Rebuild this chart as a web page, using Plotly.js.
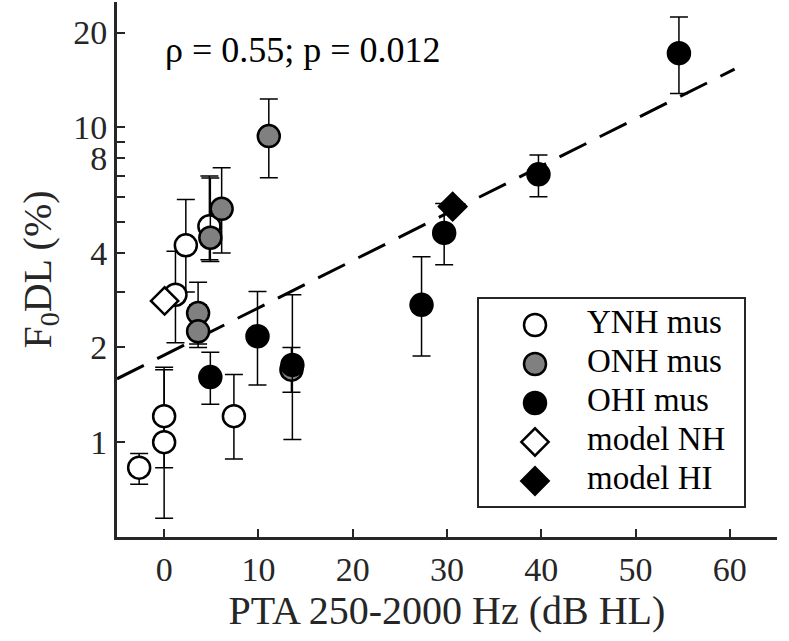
<!DOCTYPE html>
<html><head><meta charset="utf-8">
<script src="https://cdn.plot.ly/plotly-3.0.1.min.js"></script>
<style>body{margin:0;padding:0;background:#fff}#chart{width:789px;height:641px}</style>
</head><body><div id="chart"></div>
<script>
// YNH mus (white circles)
const ynhX = [-2.65, 0, 0, 1.2, 2.3, 4.8, 7.4];
const ynhY = [0.83, 1.0, 1.21, 2.94, 4.22, 4.85, 1.21];
const ynhHi = [0.92, 1.73, 1.70, 4.04, 5.90, 7.0, 1.64];
const ynhLo = [0.735, 0.573, 0.83, 2.07, 3.0, 3.8, 0.885];
// ONH mus (gray circles)
const onhX = [3.6, 3.6, 4.9, 6.1, 11.1, 13.5];
const onhY = [2.57, 2.25, 4.46, 5.51, 9.38, 1.70];
const onhHi = [3.22, 2.73, 6.9, 7.44, 12.3, 2.0];
const onhLo = [2.05, 2.0, 3.75, 3.99, 6.92, 1.44];
// OHI mus (black circles)
const ohiX = [4.9, 9.9, 13.6, 27.3, 29.7, 39.7, 54.6];
const ohiY = [1.61, 2.17, 1.76, 2.73, 4.62, 7.09, 17.2];
const ohiHi = [1.93, 3.01, 2.94, 3.88, 5.73, 8.16, 22.4];
const ohiLo = [1.32, 1.52, 1.02, 1.88, 3.66, 6.02, 12.8];
// model
const modelNHX = [0.05];
const modelNHY = [2.81];
const modelHIX = [30.6];
const modelHIY = [5.6];
// regression line endpoints
const fitX = [-5, 60.5];
const fitY = [1.59, 15.3];
// axis ticks
const yTickVals = [1, 2, 3, 4, 5, 6, 7, 8, 9, 10, 20];
const yTickText = ['1', '2', '', '4', '', '', '', '8', '', '10', '20'];
const xTickVals = [0, 10, 20, 30, 40, 50, 60];
// legend entries
const legendLabels = ['YNH mus', 'ONH mus', 'OHI mus', 'model NH', 'model HI'];
const legendSymbols = ['circle', 'circle', 'circle', 'diamond', 'diamond'];
const legendFills = ['#ffffff', '#808080', '#000000', '#ffffff', '#000000'];
const legendSizes = [22, 22, 22, 21, 21];

const FONT = 'Liberation Serif, Times New Roman, serif';
const INK = '#262626';

function err(y, hi, lo) {
  return {
    type: 'data', symmetric: false,
    array: hi.map((h, i) => h - y[i]),
    arrayminus: lo.map((l, i) => y[i] - l),
    color: '#000', thickness: 1.5, width: 9
  };
}

const rowIdx = legendLabels.map((_, i) => i);

const traces = [
  {x: fitX, y: fitY, mode: 'lines', hoverinfo: 'skip',
   line: {color: '#000', width: 3, dash: '30px,15px'}},
  {x: ynhX, y: ynhY, mode: 'markers', name: 'YNH mus', error_y: err(ynhY, ynhHi, ynhLo),
   marker: {symbol: 'circle', size: 22, color: '#ffffff', opacity: 1, line: {color: '#000', width: 2.5}}},
  {x: onhX, y: onhY, mode: 'markers', name: 'ONH mus', error_y: err(onhY, onhHi, onhLo),
   marker: {symbol: 'circle', size: 22, color: '#808080', opacity: 1, line: {color: '#000', width: 2.5}}},
  {x: ohiX, y: ohiY, mode: 'markers', name: 'OHI mus', error_y: err(ohiY, ohiHi, ohiLo),
   marker: {symbol: 'circle', size: 22, color: '#000000', opacity: 1, line: {color: '#000', width: 2.5}}},
  {x: modelNHX, y: modelNHY, mode: 'markers', name: 'model NH',
   marker: {symbol: 'diamond', size: 21, color: '#ffffff', opacity: 1, line: {color: '#000', width: 2.5}}},
  {x: modelHIX, y: modelHIY, mode: 'markers', name: 'model HI',
   marker: {symbol: 'diamond', size: 21, color: '#000000', opacity: 1, line: {color: '#000', width: 2.5}}},
  // legend box contents (drawn on a hidden helper axis pair)
  {x: rowIdx.map(() => 57), y: rowIdx, xaxis: 'x2', yaxis: 'y2', mode: 'markers', cliponaxis: false,
   marker: {symbol: legendSymbols, size: legendSizes, color: legendFills, opacity: 1,
            line: {color: '#000', width: 2.5}}},
  {x: rowIdx.map(() => 109), y: rowIdx, xaxis: 'x2', yaxis: 'y2', mode: 'text', cliponaxis: false,
   text: legendLabels, textposition: 'middle right',
   textfont: {family: FONT, size: 33, color: '#000'}}
];

const boxX0 = (478 - 117) / 660, boxX1 = (745 - 117) / 660;
const boxY1 = (537 - 298) / 535, boxY0 = (537 - 507) / 535;

const layout = {
  width: 789, height: 641,
  margin: {l: 117, r: 12, t: 2, b: 104},
  paper_bgcolor: '#fff', plot_bgcolor: 'rgba(0,0,0,0)',
  font: {family: FONT, color: INK, size: 34},
  showlegend: false,
  xaxis: {
    range: [-5, 65], showgrid: false, zeroline: false,
    showline: true, linecolor: INK, linewidth: 3,
    ticks: 'inside', ticklen: 8, tickwidth: 2, tickcolor: INK,
    tickvals: xTickVals, tickfont: {family: FONT, size: 34, color: INK},
    title: {text: 'PTA 250-2000 Hz (dB HL)', font: {family: FONT, size: 40, color: INK}, standoff: 8},
    automargin: false
  },
  yaxis: {
    type: 'log', range: [Math.log10(0.5), Math.log10(25)],
    showgrid: false, zeroline: false,
    showline: true, linecolor: INK, linewidth: 3,
    ticks: 'inside', ticklen: 8, tickwidth: 2, tickcolor: INK,
    tickvals: yTickVals, ticktext: yTickText,
    tickfont: {family: FONT, size: 34, color: INK},
    title: {text: 'F<sub>0</sub>DL (%)', font: {family: FONT, size: 40, color: INK}, standoff: 10},
    automargin: false
  },
  xaxis2: {domain: [boxX0, boxX1], anchor: 'y2', range: [0, 267], visible: false, fixedrange: true},
  yaxis2: {domain: [boxY0, boxY1], anchor: 'x2', range: [4.667, -0.692], visible: false, fixedrange: true},
  shapes: [{
    type: 'rect', xref: 'paper', yref: 'paper', x0: boxX0, x1: boxX1, y0: boxY0, y1: boxY1,
    line: {color: INK, width: 2}, fillcolor: '#ffffff', layer: 'below'
  }],
  annotations: [{
    xref: 'paper', yref: 'paper', x: 0.07, y: 0.91, xanchor: 'left', yanchor: 'middle',
    text: 'ρ = 0.55; p = 0.012', showarrow: false,
    font: {family: FONT, size: 36, color: '#000'}
  }]
};

Plotly.newPlot('chart', traces, layout, {displayModeBar: false, staticPlot: true});
</script>
</body></html>
